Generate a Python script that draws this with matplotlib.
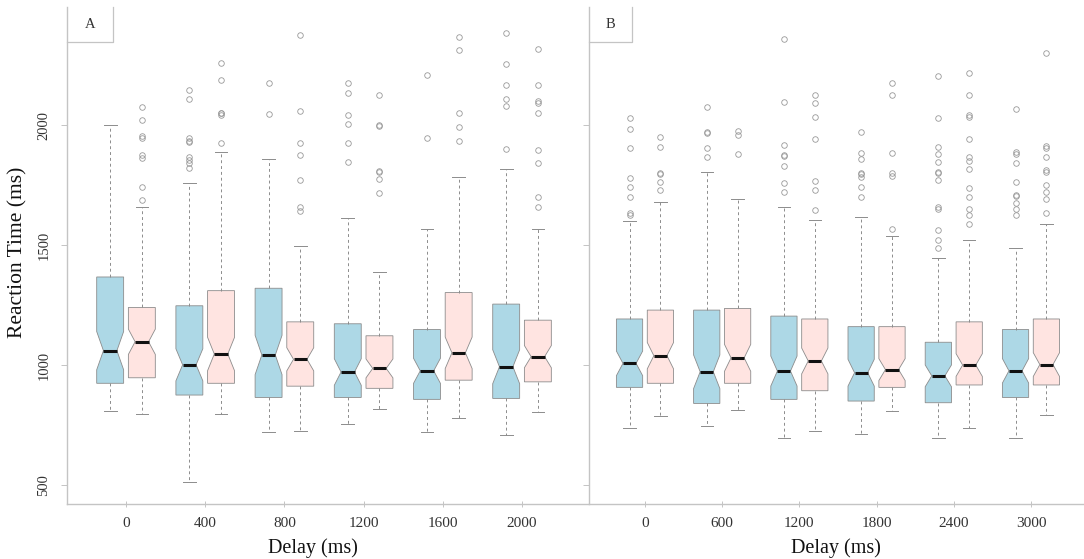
import matplotlib
matplotlib.use("Agg")
import matplotlib.pyplot as plt

plt.rcParams['font.family'] = ['Liberation Serif', 'DejaVu Serif']

# ---------------- data ----------------
delays_A = [0, 400, 800, 1200, 1600, 2000]
delays_B = [0, 600, 1200, 1800, 2400, 3000]

# (q1, median, q3, lower whisker, upper whisker)
A_blue = [(924, 1060, 1367, 808, 2000),
          (875, 1001, 1247, 514, 1757),
          (865, 1042, 1320, 722, 1857),
          (865, 971, 1172, 754, 1612),
          (857, 976, 1148, 722, 1569),
          (861, 993, 1254, 708, 1817)]
A_pink = [(947, 1097, 1240, 796, 1657),
          (924, 1046, 1310, 796, 1886),
          (912, 1024, 1180, 726, 1496),
          (903, 986, 1122, 815, 1389),
          (937, 1051, 1302, 778, 1785),
          (930, 1035, 1187, 803, 1565)]
B_blue = [(907, 1007, 1192, 739, 1600),
          (840, 972, 1229, 746, 1805),
          (857, 975, 1204, 695, 1657),
          (850, 968, 1160, 712, 1618),
          (843, 955, 1095, 695, 1444),
          (865, 976, 1148, 695, 1486)]
B_pink = [(924, 1039, 1229, 787, 1678),
          (924, 1030, 1236, 812, 1692),
          (893, 1017, 1192, 726, 1604),
          (907, 981, 1160, 808, 1539),
          (917, 1000, 1180, 739, 1523),
          (917, 1002, 1192, 792, 1587)]

A_blue_out = [[],
              [1820, 1841, 1854, 1867, 1929, 1935, 1946, 2108, 2146],
              [2045, 2175],
              [1847, 1924, 2003, 2044, 2132, 2174],
              [1948, 2208],
              [1899, 2078, 2108, 2167, 2253, 2382]]
A_pink_out = [[1687, 1742, 1862, 1875, 1945, 1955, 2021, 2075],
              [1925, 2042, 2050, 2050, 2187, 2258],
              [1643, 1659, 1771, 1875, 1924, 2060, 2375],
              [1715, 1774, 1805, 1810, 1996, 2000, 2125],
              [1935, 1993, 2052, 2312, 2365],
              [1660, 1699, 1840, 1896, 2049, 2090, 2100, 2169, 2319]]
B_blue_out = [[1625, 1632, 1701, 1740, 1778, 1903, 1982, 2030],
              [1865, 1905, 1965, 1972, 2074],
              [1722, 1760, 1830, 1870, 1875, 1917, 2097, 2360],
              [1699, 1744, 1782, 1797, 1801, 1857, 1882, 1972],
              [1486, 1521, 1562, 1652, 1657, 1771, 1800, 1805, 1847, 1880, 1910, 2028, 2204],
              [1625, 1650, 1674, 1704, 1710, 1764, 1843, 1880, 1886, 2069]]
B_pink_out = [[1729, 1764, 1795, 1799, 1910, 1951],
              [1878, 1958, 1975],
              [1646, 1729, 1768, 1944, 2035, 2090, 2125],
              [1569, 1787, 1799, 1882, 2125, 2174],
              [1587, 1625, 1649, 1700, 1736, 1819, 1850, 1868, 1944, 2035, 2040, 2127, 2215],
              [1632, 1690, 1720, 1750, 1805, 1812, 1868, 1905, 1912, 2299]]

y_ticks = [500, 1000, 1500, 2000]
NOTCH_K = 0.18  # notch half-width as fraction of IQR

BLUE = '#ADD8E6'
PINK = '#FFE4E1'
LINE = '#8c8c8c'
SPINE = '#c4c4c4'

W, H = 1084, 559
fig = plt.figure(figsize=(W / 100, H / 100), dpi=100)


def make_stats(boxes, outs):
    st = []
    for (q1, med, q3, lo, hi), fl in zip(boxes, outs):
        h = NOTCH_K * (q3 - q1)
        st.append(dict(q1=q1, med=med, q3=q3, whislo=lo, whishi=hi,
                       fliers=fl, cilo=med - h, cihi=med + h))
    return st


def panel(rect, xlim, delays, blue, pink, bout, pout, label, ylabels, boxw):
    ax = fig.add_axes(rect)
    pos = list(range(len(delays)))
    for stats, off, col in ((make_stats(blue, bout), -0.2, BLUE),
                            (make_stats(pink, pout), 0.2, PINK)):
        ax.bxp(stats, positions=[p + off for p in pos], widths=0.34,
               capwidths=0.16, shownotches=True, patch_artist=True,
               boxprops=dict(facecolor=col, edgecolor=LINE, linewidth=0.6),
               whiskerprops=dict(color=LINE, linewidth=0.7, linestyle=(0, (3, 3))),
               capprops=dict(color=LINE, linewidth=0.7),
               medianprops=dict(color='#111111', linewidth=2.2),
               flierprops=dict(marker='o', markerfacecolor='none',
                               markeredgecolor='#999999', markersize=4,
                               markeredgewidth=0.6))
    ax.set_xlim(*xlim)
    ax.set_ylim(421, 2492)
    ax.set_xticks(pos)
    ax.set_xticklabels([str(d) for d in delays], fontsize=11, color='#333333')
    ax.set_yticks(y_ticks)
    if ylabels:
        ax.set_yticklabels([str(v) for v in y_ticks], rotation=90,
                           va='center', fontsize=10.5, color='#333333')
    else:
        ax.set_yticklabels([])
    for s in ('top', 'right'):
        ax.spines[s].set_visible(False)
    for s in ('left', 'bottom'):
        ax.spines[s].set_color(SPINE)
        ax.spines[s].set_linewidth(1.0)
    ax.tick_params(axis='x', direction='inout', length=5, width=0.7,
                   color=SPINE, pad=7)
    ax.tick_params(axis='y', direction='out', length=4, width=0.7,
                   color=SPINE, pad=8)
    # panel label box
    ax.plot([0, boxw, boxw], [0.9296, 0.9296, 1.0], transform=ax.transAxes,
            color=SPINE, lw=0.9, clip_on=False)
    ax.text(boxw / 2, 0.965, label, transform=ax.transAxes, ha='center',
            va='center', fontsize=10.5, color='#333333')
    return ax


bot = (H - 504) / H
hgt = (504 - 7) / H
panel([67 / W, bot, (588 - 67) / W, hgt], (-0.745, 5.833), delays_A,
      A_blue, A_pink, A_blue_out, A_pink_out, 'A', True, 46 / 521)
panel([589 / W, bot, (W - 589) / W, hgt], (-0.725, 5.687), delays_B,
      B_blue, B_pink, B_blue_out, B_pink_out, 'B', False, 43 / 495)

fig.text(18 / W, 1 - 252 / H, 'Reaction Time (ms)', rotation=90,
         ha='center', va='center', fontsize=15.5, color='#111111')
fig.text(313 / W, 1 - 548 / H, 'Delay (ms)', ha='center', va='center',
         fontsize=14.5, color='#111111')
fig.text(836 / W, 1 - 548 / H, 'Delay (ms)', ha='center', va='center',
         fontsize=14.5, color='#111111')

fig.savefig('out.png', dpi=100)
